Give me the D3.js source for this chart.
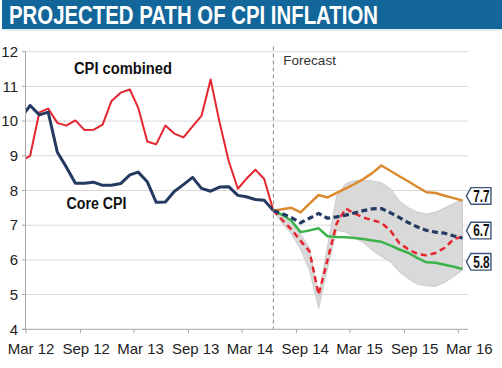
<!DOCTYPE html>
<html><head><meta charset="utf-8">
<script src="https://cdn.jsdelivr.net/npm/d3@7/dist/d3.min.js"></script>
<style>body{margin:0;background:#fff}svg{display:block}</style>
</head><body>
<svg id="c" width="502" height="368"></svg>
<script>
// ---------------- data ----------------
const titleText = "PROJECTED PATH OF CPI INFLATION";
const histStart = "2012-02";
const cpiCombined = [8.86, 9.0, 10.25, 10.36, 9.95, 9.87, 10.02, 9.74, 9.75, 9.9, 10.58,
  10.82, 10.91, 10.39, 9.41, 9.33, 9.87, 9.64, 9.53, 9.85, 10.15, 11.2, 9.97,
  8.85, 8.05, 8.33, 8.6, 8.33, 7.42];
const coreCpi = [10.12, 10.45, 10.18, 10.26, 9.1, 8.68, 8.21, 8.21, 8.24, 8.15, 8.15,
  8.2, 8.45, 8.53, 8.25, 7.66, 7.67, 7.97, 8.17, 8.38, 8.06, 7.98, 8.1,
  8.11, 7.86, 7.82, 7.74, 7.72, 7.42];
const forecastStart = "2014-06";
const forecastHigh = [7.42, 7.46, 7.5, 7.37, 7.62, 7.87, 7.8, 7.93, 8.06, 8.18, 8.33, 8.5, 8.72,
  8.57, 8.41, 8.26, 8.1, 7.95, 7.93, 7.85, 7.78, 7.71];
const forecastCore = [7.42, 7.33, 7.22, 7.07, 7.2, 7.34, 7.2, 7.24, 7.29, 7.35, 7.42, 7.47, 7.48,
  7.36, 7.22, 7.07, 6.95, 6.85, 6.8, 6.77, 6.69, 6.63];
const forecastCombined = [7.42, 7.15, 6.88, 6.55, 6.25, 5.0, 6.0, 7.05, 7.48, 7.34, 7.22, 7.15, 7.07,
  6.85, 6.48, 6.3, 6.17, 6.13, 6.2, 6.35, 6.6, 6.67];
const forecastLow = [7.42, 7.3, 7.13, 6.8, 6.85, 6.91, 6.68, 6.66, 6.65, 6.63, 6.6, 6.56, 6.52,
  6.42, 6.3, 6.2, 6.05, 5.93, 5.92, 5.86, 5.8, 5.74];
const bandUpper = [7.42, 7.25, 7.05, 6.75, 6.35, 4.95, 6.4, 7.85, 8.2, 8.28, 8.3, 8.28, 8.22,
  8.06, 7.7, 7.5, 7.38, 7.32, 7.38, 7.5, 7.63, 7.73];
const bandLower = [7.42, 7.05, 6.75, 6.3, 5.7, 4.6, 5.75, 6.85, 6.8, 6.65, 6.5, 6.28, 6.09,
  5.95, 5.65, 5.45, 5.3, 5.25, 5.24, 5.35, 5.52, 5.71];
const yTicks = [4, 5, 6, 7, 8, 9, 10, 11, 12];
const xTickMonths = ["2012-03", "2012-09", "2013-03", "2013-09", "2014-03", "2014-09", "2015-03", "2015-09", "2016-03"];
const xTickLabels = ["Mar 12", "Sep 12", "Mar 13", "Sep 13", "Mar 14", "Sep 14", "Mar 15", "Sep 15", "Mar 16"];
const endLabelTexts = ["7.7", "6.7", "5.8"];
const endLabelValues = [7.7, 6.7, 5.8];
const seriesNames = ["CPI combined", "Core CPI"];
const forecastText = "Forecast";

// ---------------- helpers ----------------
const parseM = d3.timeParse("%Y-%m");
const midMonth = (start, i) => d3.timeDay.offset(d3.timeMonth.offset(parseM(start), i), 14);
const toPts = (start, arr) => arr.map((v, i) => ({ date: midMonth(start, i), v }));

const svg = d3.select("#c");
const plotL = 26, plotR = 468, plotT = 51.7, plotB = 329.3;

const x = d3.scaleTime()
  .domain([parseM("2012-03"), parseM("2016-03")])
  .range([26, 458.3]);
const y = d3.scaleLinear().domain([4, 12]).range([plotB, plotT]);

// title bar
svg.append("rect").attr("x", 2).attr("y", 0).attr("width", 500).attr("height", 29).attr("fill", "#13669a");
svg.append("rect").attr("x", 2).attr("y", 29).attr("width", 500).attr("height", 2).attr("fill", "#e3eaf0");
svg.append("text").attr("x", 9).attr("y", 23.5)
  .attr("font-family", "'Liberation Sans Narrow','Liberation Sans',Arial,sans-serif")
  .attr("font-size", 25).attr("font-weight", "bold").attr("fill", "#fff")
  .attr("textLength", 369).attr("lengthAdjust", "spacingAndGlyphs")
  .text(titleText);

// gridlines
svg.append("g").selectAll("line").data(yTicks.filter(t => t > 4)).join("line")
  .attr("x1", plotL).attr("x2", plotR)
  .attr("y1", d => y(d)).attr("y2", d => y(d))
  .attr("stroke", "#d9d9d9").attr("stroke-width", 1);

// clip
svg.append("defs").append("clipPath").attr("id", "plotClip")
  .append("rect").attr("x", plotL).attr("y", 40).attr("width", plotR - plotL).attr("height", plotB - 40);

const g = svg.append("g").attr("clip-path", "url(#plotClip)");

// band
const bandPts = bandUpper.map((u, i) => ({ date: midMonth(forecastStart, i), u, l: bandLower[i] }));
g.append("path").datum(bandPts)
  .attr("d", d3.area().x(d => x(d.date)).y0(d => y(d.l)).y1(d => y(d.u)))
  .attr("fill", "#d9d9d9").attr("stroke", "#c4c4c4").attr("stroke-width", 0.8);

// forecast divider
const lastActual = midMonth(histStart, cpiCombined.length - 1);
svg.append("line")
  .attr("x1", x(lastActual)).attr("x2", x(lastActual))
  .attr("y1", 46.5).attr("y2", plotB)
  .attr("stroke", "#8c8c8c").attr("stroke-width", 1).attr("stroke-dasharray", "4,3");
svg.append("text").attr("x", x(lastActual) + 10).attr("y", 65)
  .attr("font-family", "'Liberation Sans',Arial,sans-serif").attr("font-size", 13.5)
  .attr("fill", "#333").text(forecastText);

const line = d3.line().x(d => x(d.date)).y(d => y(d.v));

function drawLine(start, arr, color, width, dash) {
  const p = g.append("path").datum(toPts(start, arr))
    .attr("d", line).attr("fill", "none")
    .attr("stroke", color).attr("stroke-width", width)
    .attr("stroke-linejoin", "round");
  if (dash) p.attr("stroke-dasharray", dash);
}

drawLine(forecastStart, forecastHigh, "#db8a2f", 2.5);
drawLine(forecastStart, forecastLow, "#3cb34a", 2.5);
drawLine(forecastStart, forecastCombined, "#e5262e", 2.5, "6,4");
drawLine(forecastStart, forecastCore, "#243a63", 3.2, "6,3.5");
drawLine(histStart, cpiCombined, "#e5262e", 2);
drawLine(histStart, coreCpi, "#243a63", 3);

// axes
const axisColor = "#a6a6a6";
svg.append("line").attr("x1", plotL - 0.5).attr("x2", plotL - 0.5).attr("y1", plotT).attr("y2", plotB)
  .attr("stroke", axisColor).attr("stroke-width", 1);
svg.append("line").attr("x1", plotL - 4).attr("x2", plotR).attr("y1", plotB).attr("y2", plotB)
  .attr("stroke", axisColor).attr("stroke-width", 1);
svg.append("g").selectAll("line").data(yTicks).join("line")
  .attr("x1", plotL - 4).attr("x2", plotL).attr("y1", d => y(d)).attr("y2", d => y(d))
  .attr("stroke", axisColor);
svg.append("g").selectAll("text").data(yTicks).join("text")
  .attr("x", 18).attr("y", d => y(d)).attr("dy", "0.35em")
  .attr("text-anchor", "end")
  .attr("font-family", "'Liberation Sans',Arial,sans-serif").attr("font-size", 15)
  .attr("fill", "#222").text(d => d);

const xt = xTickMonths.map(parseM);
svg.append("g").selectAll("line").data(xt).join("line")
  .attr("x1", d => x(d)).attr("x2", d => x(d)).attr("y1", plotB).attr("y2", plotB + 4)
  .attr("stroke", axisColor);
svg.append("g").selectAll("text").data(xt).join("text")
  .attr("x", (d, i) => x(d) + 5 + 0.75 * i).attr("y", 354)
  .attr("text-anchor", "middle")
  .attr("font-family", "'Liberation Sans',Arial,sans-serif").attr("font-size", 15)
  .attr("fill", "#222").text((d, i) => xTickLabels[i]);

// series labels
svg.append("text").attr("x", 74).attr("y", 74.3)
  .attr("font-family", "'Liberation Sans',Arial,sans-serif").attr("font-weight", "bold")
  .attr("font-size", 16).attr("fill", "#111")
  .attr("textLength", 98).attr("lengthAdjust", "spacingAndGlyphs").text(seriesNames[0]);
svg.append("text").attr("x", 66.5).attr("y", 209.3)
  .attr("font-family", "'Liberation Sans',Arial,sans-serif").attr("font-weight", "bold")
  .attr("font-size", 16).attr("fill", "#111")
  .attr("textLength", 60).attr("lengthAdjust", "spacingAndGlyphs").text(seriesNames[1]);

// end labels (callouts)
const endX = x(midMonth(forecastStart, forecastHigh.length - 1));
endLabelValues.forEach((v, i) => {
  const cy = y(v) - 5;
  const tip = endX + 4, l = endX + 8.5, r = endX + 28.5, h = 8.3;
  svg.append("path")
    .attr("d", `M${tip},${cy} L${l},${cy - h} L${r},${cy - h} L${r},${cy + h} L${l},${cy + h} Z`)
    .attr("fill", "#fff").attr("stroke", "#3b5578").attr("stroke-width", 1.4)
    .attr("stroke-linejoin", "miter");
  svg.append("text").attr("x", (l + r) / 2 + 0.5).attr("y", cy).attr("dy", "0.36em")
    .attr("text-anchor", "middle")
    .attr("font-family", "'Liberation Sans Narrow','Liberation Sans',Arial,sans-serif")
    .attr("font-weight", "bold").attr("font-size", 16).attr("fill", "#111")
    .attr("textLength", 16.5).attr("lengthAdjust", "spacingAndGlyphs")
    .text(endLabelTexts[i]);
});
</script>
</body></html>
